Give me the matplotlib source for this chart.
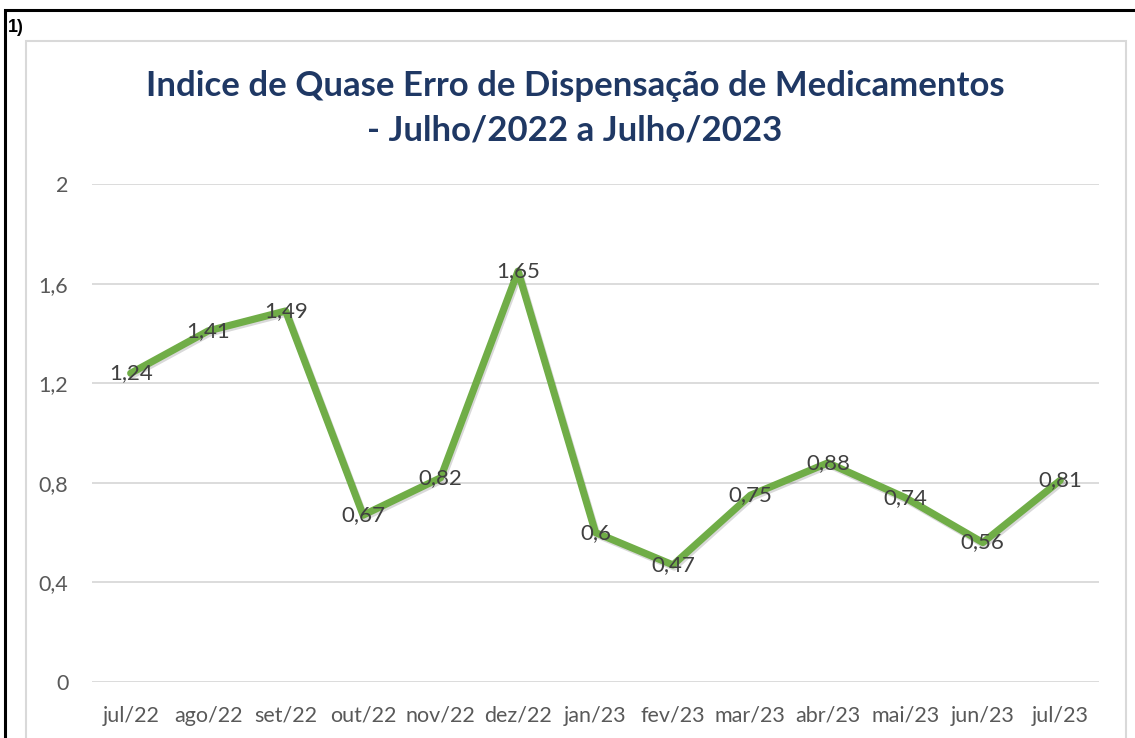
import matplotlib
matplotlib.use("Agg")
import matplotlib.pyplot as plt
import matplotlib.patheffects as pe
from matplotlib.patches import Rectangle

plt.rcParams["font.family"] = ["Lato", "DejaVu Sans"]

MONTHS = ["jul/22", "ago/22", "set/22", "out/22", "nov/22", "dez/22", "jan/23",
          "fev/23", "mar/23", "abr/23", "mai/23", "jun/23", "jul/23"]
VALUES = [1.24, 1.41, 1.49, 0.67, 0.82, 1.65, 0.60, 0.47, 0.75, 0.88, 0.74, 0.56, 0.81]
LABELS = ["1,24", "1,41", "1,49", "0,67", "0,82", "1,65", "0,6", "0,47",
          "0,75", "0,88", "0,74", "0,56", "0,81"]
YTICKS = [0, 0.4, 0.8, 1.2, 1.6, 2]
YTICK_LABELS = ["0", "0,4", "0,8", "1,2", "1,6", "2"]

W, H = 1135, 738
fig = plt.figure(figsize=(W / 100, H / 100), dpi=100)

# outer black frame and inner chart area frame (pixel coords)
def px_rect(x0, y0, x1, y1, **kw):
    return Rectangle((x0 / W, 1 - y1 / H), (x1 - x0) / W, (y1 - y0) / H,
                     transform=fig.transFigure, fill=False, **kw)

fig.patches.append(px_rect(5, 10, 1140, 745, edgecolor="black", linewidth=2.2))
fig.patches.append(px_rect(26, 41, 1126, 745, edgecolor="#D9D9D9", linewidth=1.5))
fig.text(8 / W, 1 - 27 / H, "1)", fontsize=13, fontweight="bold",
         family=["Liberation Sans", "DejaVu Sans"], va="center", ha="left")

fig.text(575 / W, 1 - 86 / H, "Indice de Quase Erro de Dispensação de Medicamentos",
         fontsize=25, fontweight="bold", color="#1F3864", ha="center", va="center")
fig.text(575 / W, 1 - 130 / H, "- Julho/2022 a Julho/2023",
         fontsize=25, fontweight="bold", color="#1F3864", ha="center", va="center")

ax = fig.add_axes([92 / W, 1 - 682 / H, (1099 - 92) / W, (682 - 184) / H])
x = list(range(len(MONTHS)))
ax.plot(x, VALUES, color="#70AD47", linewidth=5.2, solid_joinstyle="round",
        solid_capstyle="round", zorder=3,
        path_effects=[pe.SimpleLineShadow(offset=(1, -1.5), alpha=0.15, shadow_color="black"),
                      pe.Normal()])
for xi, v, lab in zip(x, VALUES, LABELS):
    ax.text(xi, v, lab, ha="center", va="center", fontsize=16, color="#404040", zorder=4)

ax.set_xlim(-0.5, len(MONTHS) - 0.5)
ax.set_ylim(0, 2)
ax.set_yticks(YTICKS)
ax.set_yticklabels(YTICK_LABELS)
ax.set_xticks(x)
ax.set_xticklabels(MONTHS)
ax.tick_params(axis="both", length=0, labelsize=15.5, labelcolor="#595959")
ax.tick_params(axis="y", pad=17)
ax.tick_params(axis="x", pad=17)
ax.grid(True, axis="y", color="#D9D9D9", linewidth=1.3)
ax.set_axisbelow(True)
for s in ax.spines.values():
    s.set_visible(False)

fig.savefig("out.png", dpi=100)
